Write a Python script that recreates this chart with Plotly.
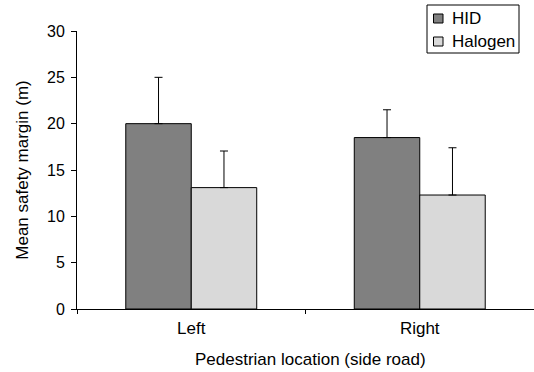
import plotly.graph_objects as go

categories = ["Left", "Right"]
hid_values = [20.0, 18.5]
hid_err = [5.0, 3.0]
halogen_values = [13.1, 12.3]
halogen_err = [3.95, 5.1]
series_names = ["HID", "Halogen"]
series_colors = ["#808080", "#d9d9d9"]

FONT = "Liberation Sans, Arial, sans-serif"

# plot area in pixels
L, R, T, B = 77, 534, 31, 309
W, H = R - L, B - T


def px(x):
    return (x - L) / W


def py(y):
    return (B - y) / H


fig = go.Figure()
for name, vals, errs, col in [
    (series_names[0], hid_values, hid_err, series_colors[0]),
    (series_names[1], halogen_values, halogen_err, series_colors[1]),
]:
    fig.add_trace(go.Bar(
        name=name, x=categories, y=vals,
        marker=dict(color=col, line=dict(color="black", width=1)),
        error_y=dict(type="data", array=errs, arrayminus=[0] * len(errs), symmetric=False,
                     color="black", thickness=1, width=4),
        showlegend=False,
    ))

# manual legend (box, swatches, labels)
shapes = [dict(type="rect", xref="paper", yref="paper",
               x0=px(427), x1=px(519), y0=py(53), y1=py(5),
               line=dict(color="black", width=1), fillcolor="white", layer="above")]
annotations = []
rows = [18.5, 41.5]
for name, col, yc in zip(series_names, series_colors, rows):
    shapes.append(dict(type="rect", xref="paper", yref="paper",
                       x0=px(433.5), x1=px(443), y0=py(yc + 4.5), y1=py(yc - 4.5),
                       line=dict(color="black", width=1), fillcolor=col, layer="above"))
    annotations.append(dict(text=name, xref="paper", yref="paper",
                            x=px(450), y=py(yc), xanchor="left", yanchor="middle",
                            showarrow=False, font=dict(size=17, family=FONT, color="black")))

# x axis title (slightly right of centre, as in the reference)
annotations.append(dict(text="Pedestrian location (side road)", xref="paper", yref="paper",
                        x=px(310.5), y=py(359), xanchor="center", yanchor="middle",
                        showarrow=False, font=dict(size=17, family=FONT, color="black")))

fig.update_layout(
    width=534, height=372,
    margin=dict(l=L, r=534 - R, t=T, b=372 - B),
    paper_bgcolor="white", plot_bgcolor="white",
    barmode="group", bargap=0.427, bargroupgap=0,
    font=dict(family=FONT, size=17, color="black"),
    showlegend=False,
    shapes=shapes, annotations=annotations,
)
fig.update_xaxes(
    showline=True, linecolor="black", linewidth=1,
    ticks="outside", ticklen=4, tickcolor="black", tickson="boundaries",
    showgrid=False, tickfont=dict(size=17), ticklabelstandoff=4,
)
fig.update_yaxes(
    range=[0, 30], dtick=5,
    showline=True, linecolor="black", linewidth=1,
    ticks="outside", ticklen=5, tickcolor="black", ticklabelstandoff=3,
    showgrid=False, zeroline=False, tickfont=dict(size=16),
    title=dict(text="Mean safety margin (m)", standoff=14, font=dict(size=17)),
)

fig.write_html("out.html")
